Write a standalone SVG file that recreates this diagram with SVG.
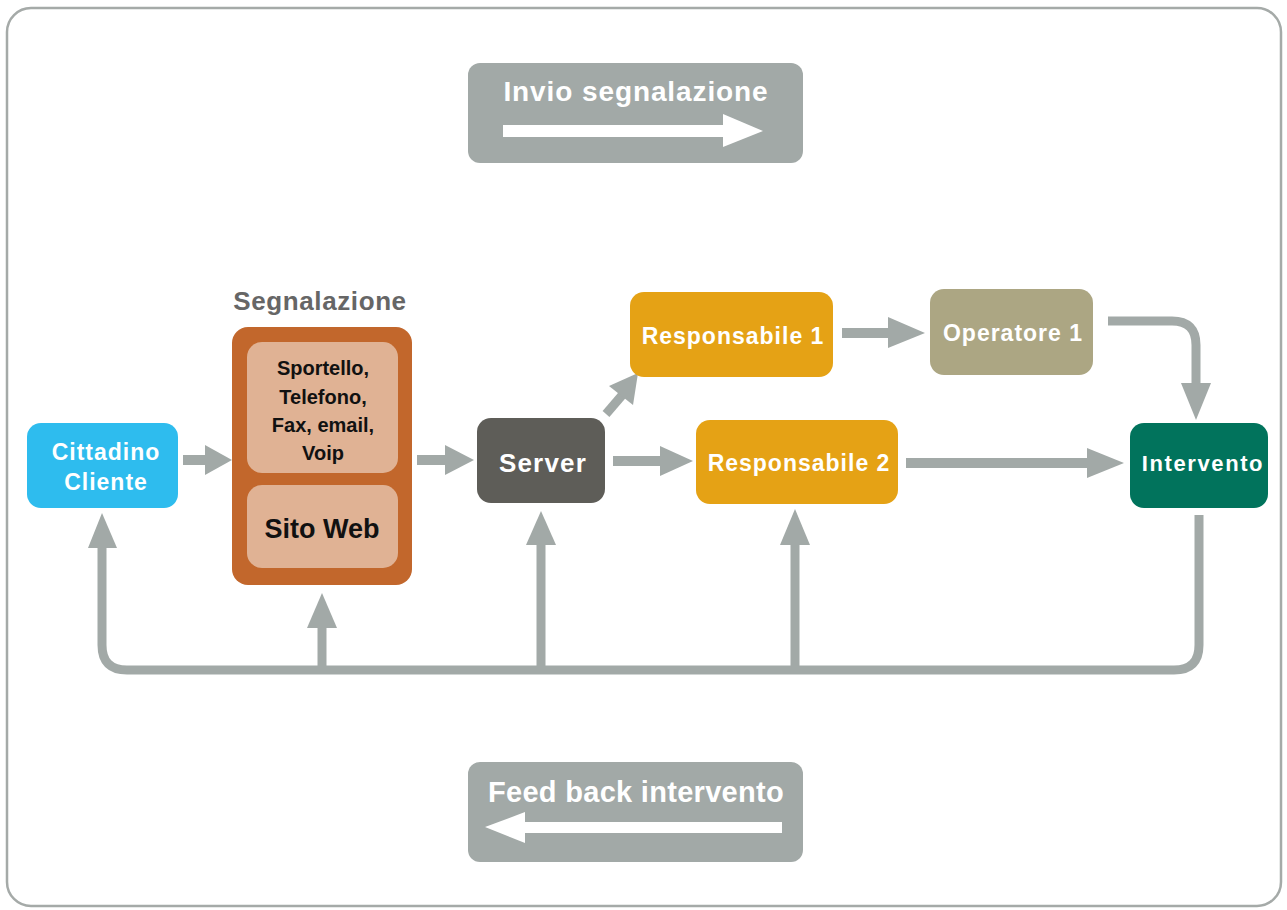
<svg xmlns="http://www.w3.org/2000/svg" width="1287" height="910" viewBox="0 0 1287 910">
<defs>
<style>
.t{font-family:"Liberation Sans",Arial,sans-serif;font-weight:bold;text-anchor:middle}
.w{fill:#ffffff}
.k{fill:#111111}
.c{fill:none;stroke:#a2a9a7;stroke-width:9}
.h{fill:#a2a9a7}
</style>
</defs>
<rect x="0" y="0" width="1287" height="910" fill="#ffffff"/>
<rect id="frame" x="7" y="8" width="1274" height="898" rx="24" fill="#ffffff" stroke="#a5aaa8" stroke-width="2.5"/>

<g id="invio">
<rect x="468" y="63" width="335" height="100" rx="12" fill="#a2a9a7"/>
<text class="t w" x="636" y="101" font-size="28" letter-spacing="0.9">Invio segnalazione</text>
<rect x="503" y="125" width="222" height="12" fill="#ffffff"/>
<polygon points="723,114 763,131 723,147" fill="#ffffff"/>
</g>

<g id="feedback">
<rect x="468" y="762" width="335" height="100" rx="12" fill="#a2a9a7"/>
<text class="t w" x="636" y="802" font-size="29" letter-spacing="0.3">Feed back intervento</text>
<rect x="523" y="822" width="259" height="11" fill="#ffffff"/>
<polygon points="525,812 485,827 525,843" fill="#ffffff"/>
</g>

<g id="connectors">
<!-- Cittadino -> Segnalazione -->
<rect x="183" y="455" width="24" height="10" class="h"/>
<polygon class="h" points="205,445 232,460 205,475"/>
<!-- Segnalazione -> Server -->
<rect x="417" y="455" width="30" height="10" class="h"/>
<polygon class="h" points="445,445 474,460 445,475"/>
<!-- Server -> Responsabile 2 -->
<rect x="613" y="456" width="50" height="10" class="h"/>
<polygon class="h" points="660,446 693,461 660,476"/>
<!-- Server -> Responsabile 1 (diagonal) -->
<line x1="606" y1="414" x2="624" y2="393" stroke="#a2a9a7" stroke-width="9"/>
<polygon class="h" points="638,373 633,405 609,386"/>
<!-- Responsabile 1 -> Operatore 1 -->
<rect x="842" y="328" width="50" height="10" class="h"/>
<polygon class="h" points="888,317 925,333 888,348"/>
<!-- Operatore 1 -> Intervento -->
<path class="c" d="M1108,321 H1172 Q1196,321 1196,345 V386"/>
<polygon class="h" points="1181,383 1211,383 1196,420"/>
<!-- Responsabile 2 -> Intervento -->
<rect x="906" y="458" width="185" height="10" class="h"/>
<polygon class="h" points="1087,448 1124,463 1087,478"/>
<!-- Feedback loop -->
<path class="c" d="M1199,515 V645 Q1199,670 1174,670 H127 Q102,670 102,645 V545"/>
<polygon class="h" points="88,548 117,548 102,513"/>
<line class="c" x1="322" y1="670" x2="322" y2="625"/>
<polygon class="h" points="307,628 337,628 322,593"/>
<line class="c" x1="541" y1="670" x2="541" y2="542"/>
<polygon class="h" points="526,545 556,545 541,511"/>
<line class="c" x1="795" y1="670" x2="795" y2="542"/>
<polygon class="h" points="780,545 810,545 795,509"/>
</g>

<g id="cittadino">
<rect x="27" y="423" width="151" height="85" rx="14" fill="#2ebcee"/>
<text class="t w" x="106" y="460" font-size="23" letter-spacing="1">Cittadino</text>
<text class="t w" x="106" y="490" font-size="23" letter-spacing="1">Cliente</text>
</g>

<g id="segnalazione">
<text class="t" x="320" y="310" font-size="26" letter-spacing="0.6" fill="#666666">Segnalazione</text>
<rect x="232" y="327" width="180" height="258" rx="16" fill="#c2672c"/>
<rect x="247" y="342" width="151" height="131" rx="15" fill="#e0b294"/>
<rect x="247" y="485" width="151" height="83" rx="15" fill="#e0b294"/>
<text class="t k" x="323" y="375" font-size="20">Sportello,</text>
<text class="t k" x="323" y="404" font-size="20">Telefono,</text>
<text class="t k" x="323" y="432" font-size="20">Fax, email,</text>
<text class="t k" x="323" y="460" font-size="20">Voip</text>
<text class="t k" x="322" y="538" font-size="27">Sito Web</text>
</g>

<g id="server">
<rect x="477" y="418" width="128" height="85" rx="14" fill="#5e5d58"/>
<text class="t w" x="543" y="472" font-size="26" letter-spacing="1.2">Server</text>
</g>

<g id="responsabile1">
<rect x="630" y="292" width="203" height="85" rx="14" fill="#e5a215"/>
<text class="t w" x="733" y="344" font-size="23" letter-spacing="1">Responsabile 1</text>
</g>

<g id="responsabile2">
<rect x="696" y="420" width="202" height="84" rx="14" fill="#e5a215"/>
<text class="t w" x="799" y="471" font-size="23" letter-spacing="1">Responsabile 2</text>
</g>

<g id="operatore1">
<rect x="930" y="289" width="163" height="86" rx="14" fill="#aca683"/>
<text class="t w" x="1013" y="341" font-size="23" letter-spacing="1">Operatore 1</text>
</g>

<g id="intervento">
<rect x="1130" y="423" width="138" height="85" rx="14" fill="#01735c"/>
<text class="t w" x="1203" y="471" font-size="22" letter-spacing="1.6">Intervento</text>
</g>
</svg>
